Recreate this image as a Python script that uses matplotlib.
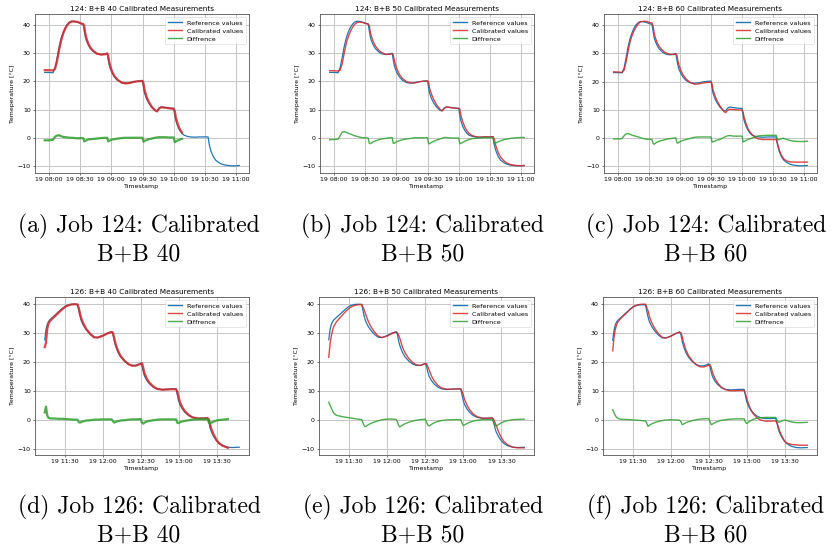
import matplotlib
matplotlib.use("Agg")
import numpy as np
import pandas as pd
import matplotlib.pyplot as plt
import matplotlib.dates as mdates

nan = np.nan
DAY = "2019-03-19 "

# ---- Job 124 -------------------------------------------------------------
t124 = ["07:56", "08:00", "08:04", "08:06", "08:08", "08:10", "08:12", "08:14", "08:16", "08:18",
        "08:20", "08:22", "08:25", "08:28", "08:31", "08:33", "08:34", "08:35", "08:36", "08:38",
        "08:40", "08:43", "08:46", "08:50", "08:54", "08:56", "08:57", "08:58", "08:59", "09:01",
        "09:03", "09:06", "09:10", "09:14", "09:18", "09:22", "09:26", "09:30", "09:31", "09:32",
        "09:34", "09:36", "09:39", "09:42", "09:44", "09:46", "09:48", "09:52", "09:56", "10:00",
        "10:01", "10:02", "10:04", "10:06", "10:08", "10:10", "10:13", "10:16", "10:20", "10:25",
        "10:30", "10:33", "10:34", "10:35", "10:36", "10:38", "10:40", "10:43", "10:46", "10:50",
        "10:55", "11:00", "11:03"]
ref124 = [23.2, 23.2, 23.1, 24.8, 28.5, 32.5, 35.5, 37.6, 39.2, 40.3,
          41.0, 41.3, 41.2, 40.9, 40.5, 40.3, 38.0, 35.8, 34.5, 32.8,
          31.6, 30.5, 29.8, 29.5, 29.7, 30.0, 27.8, 25.8, 24.5, 22.8,
          21.6, 20.4, 19.6, 19.4, 19.6, 19.9, 20.1, 20.2, 17.8, 15.8,
          13.8, 12.4, 10.8, 9.8, 9.6, 10.6, 11.0, 10.8, 10.6, 10.5,
          8.0, 6.2, 4.0, 2.6, 1.6, 1.0, 0.6, 0.4, 0.3, 0.4,
          0.4, 0.4, -2.0, -3.6, -4.8, -6.5, -7.7, -8.6, -9.2, -9.6,
          -9.8, -9.8, -9.7]
cal124_40 = [24.0, 24.0, 23.9, 24.5, 27.5, 31.5, 34.8, 37.2, 38.9, 40.1,
             40.9, 41.2, 41.2, 41.0, 40.5, 40.3, 39.5, 37.0, 35.4, 33.3,
             31.9, 30.7, 29.9, 29.5, 29.6, 29.9, 29.2, 27.0, 25.4, 23.3,
             21.9, 20.6, 19.6, 19.3, 19.5, 19.9, 20.1, 20.2, 19.2, 16.9,
             14.5, 12.8, 11.0, 9.8, 9.4, 10.5, 10.9, 10.7, 10.5, 10.3,
             9.6, 7.4, 4.8, 3.0, 1.9, nan, nan, nan, nan, nan,
             nan, nan, nan, nan, nan, nan, nan, nan, nan, nan,
             nan, nan, nan]
cal124_50 = [23.8, 23.8, 23.7, 24.0, 26.3, 30.2, 33.6, 36.0, 37.8, 39.2,
             40.2, 40.8, 41.0, 40.8, 40.5, 40.3, 39.8, 37.5, 36.0, 33.9,
             32.5, 31.1, 30.2, 29.6, 29.6, 29.8, 29.6, 27.6, 26.2, 24.0,
             22.5, 21.0, 19.9, 19.5, 19.5, 19.9, 20.1, 20.2, 19.8, 17.6,
             15.3, 13.6, 11.6, 10.2, 9.6, 10.4, 11.0, 10.8, 10.6, 10.5,
             10.3, 8.1, 5.6, 3.8, 2.5, 1.6, 0.9, 0.5, 0.3, 0.4,
             0.4, 0.5, -0.2, -1.8, -3.1, -5.1, -6.6, -7.9, -8.8, -9.4,
             -9.7, -9.8, -9.7]
cal124_60 = [23.5, 23.4, 23.3, 24.0, 27.0, 31.0, 34.3, 36.6, 38.3, 39.6,
             40.6, 41.2, 41.4, 41.3, 40.9, 40.8, 39.8, 37.4, 35.8, 33.8,
             32.4, 31.1, 30.3, 29.7, 29.6, 29.9, 29.4, 27.4, 25.9, 23.9,
             22.4, 20.9, 19.7, 19.1, 19.2, 19.5, 19.7, 19.8, 19.2, 17.0,
             14.8, 13.1, 11.2, 9.6, 9.0, 9.8, 10.2, 10.1, 10.0, 9.9,
             9.2, 7.4, 4.9, 3.1, 1.9, 1.1, 0.2, -0.3, -0.5, -0.5,
             -0.5, -0.5, -1.6, -2.9, -4.3, -6.1, -7.3, -8.1, -8.4, -8.5,
             -8.5, -8.5, -8.5]
diff124_40 = [-0.8, -0.8, -0.6, 0.5, 0.9, 1.0, 0.6, 0.4, 0.3, 0.2,
              0.1, 0.1, 0.0, -0.1, 0.0, 0.0, -1.2, -1.0, -0.8, -0.5,
              -0.4, -0.3, -0.2, 0.0, 0.1, 0.1, -1.2, -1.0, -0.8, -0.5,
              -0.4, -0.2, 0.0, 0.1, 0.1, 0.1, 0.1, 0.1, -1.3, -1.0,
              -0.7, -0.4, -0.2, 0.1, 0.2, 0.3, 0.3, 0.3, 0.2, 0.2,
              -1.5, -1.2, -0.8, -0.5, -0.3, nan, nan, nan, nan, nan,
              nan, nan, nan, nan, nan, nan, nan, nan, nan, nan,
              nan, nan, nan]
diff124_50 = [-0.6, -0.5, -0.4, 0.8, 2.1, 2.3, 2.0, 1.7, 1.4, 1.1,
              0.8, 0.6, 0.3, 0.1, 0.1, 0.0, -1.8, -2.0, -1.8, -1.3,
              -1.0, -0.6, -0.3, -0.1, 0.1, 0.2, -1.8, -1.9, -1.6, -1.2,
              -0.9, -0.6, -0.3, -0.1, 0.1, 0.1, 0.1, 0.1, -2.0, -2.0,
              -1.5, -1.1, -0.7, -0.3, -0.1, 0.2, 0.2, 0.0, 0.0, 0.0,
              -2.0, -1.9, -1.5, -1.1, -0.8, -0.5, -0.2, -0.1, 0.0, 0.1,
              0.1, 0.1, -1.8, -1.9, -1.7, -1.3, -1.0, -0.6, -0.4, -0.1,
              0.1, 0.2, 0.2]
diff124_60 = [-0.3, -0.3, -0.2, 0.8, 1.5, 1.6, 1.3, 1.0, 0.8, 0.6,
              0.4, 0.1, -0.2, -0.4, -0.4, -0.5, -1.8, -2.2, -1.9, -1.4,
              -1.1, -0.8, -0.5, -0.2, 0.0, 0.1, -1.6, -1.8, -1.5, -1.1,
              -0.8, -0.5, -0.1, 0.3, 0.4, 0.4, 0.4, 0.4, -1.4, -1.3,
              -1.0, -0.7, -0.4, 0.2, 0.5, 0.8, 0.9, 0.7, 0.7, 0.7,
              -1.4, -1.2, -0.8, -0.4, -0.2, 0.1, 0.5, 0.8, 0.9, 1.0,
              1.0, 1.0, -0.4, -0.6, -0.5, -0.2, 0.0, -0.5, -0.8, -1.1,
              -1.2, -1.2, -1.1]

# ---- Job 126 -------------------------------------------------------------
t126 = ["11:14", "11:15", "11:16", "11:17", "11:18", "11:20", "11:22", "11:25", "11:28", "11:31",
        "11:34", "11:37", "11:40", "11:41", "11:42", "11:43", "11:45", "11:47", "11:50", "11:53",
        "11:56", "12:00", "12:04", "12:07", "12:08", "12:09", "12:10", "12:12", "12:14", "12:17",
        "12:20", "12:23", "12:26", "12:30", "12:31", "12:32", "12:33", "12:35", "12:37", "12:40",
        "12:43", "12:47", "12:51", "12:55", "12:58", "12:59", "13:00", "13:01", "13:03", "13:05",
        "13:08", "13:11", "13:15", "13:19", "13:23", "13:24", "13:25", "13:26", "13:28", "13:30",
        "13:32", "13:35", "13:39", "13:43", "13:48"]
ref126 = [27.5, 31.0, 32.8, 33.8, 34.4, 35.2, 36.0, 37.2, 38.4, 39.3,
          39.7, 39.8, 39.7, 37.5, 35.5, 34.0, 32.2, 30.9, 29.4, 28.4,
          28.3, 29.0, 29.9, 30.3, 29.5, 27.2, 25.5, 23.2, 21.7, 20.2,
          19.2, 18.7, 18.7, 19.4, 18.5, 16.5, 15.0, 13.4, 12.3, 11.2,
          10.6, 10.4, 10.5, 10.6, 10.6, 8.5, 6.5, 5.2, 3.6, 2.5,
          1.4, 0.8, 0.5, 0.5, 0.6, -1.0, -3.0, -4.3, -6.0, -7.3,
          -8.2, -9.0, -9.5, -9.6, -9.5]
cal126_40 = [25.0, 26.5, 31.3, 33.2, 33.9, 34.8, 35.6, 36.9, 38.1, 39.1,
             39.6, 39.8, 39.7, 38.4, 36.5, 34.8, 32.7, 31.2, 29.6, 28.4,
             28.3, 28.9, 29.8, 30.2, 30.0, 28.2, 26.3, 23.7, 22.0, 20.4,
             19.2, 18.6, 18.6, 19.2, 19.5, 17.9, 16.0, 14.0, 12.7, 11.4,
             10.6, 10.3, 10.4, 10.5, 10.5, 9.6, 7.7, 6.1, 4.2, 2.9,
             1.6, 0.8, 0.4, 0.4, 0.5, 0.0, -1.7, -3.3, -5.4, -7.0,
             -8.1, -9.0, -9.7, nan, nan]
cal126_50 = [21.5, 26.0, 28.8, 30.8, 32.2, 33.7, 34.7, 36.2, 37.6, 38.7,
             39.3, 39.6, 39.7, 38.7, 37.7, 36.4, 34.0, 32.2, 30.2, 28.8,
             28.3, 28.8, 29.7, 30.2, 30.1, 29.2, 28.0, 25.1, 23.1, 21.1,
             19.7, 18.9, 18.7, 19.2, 19.3, 18.3, 17.2, 15.0, 13.4, 11.8,
             10.9, 10.5, 10.5, 10.6, 10.6, 9.7, 8.5, 7.0, 4.9, 3.4,
             1.9, 1.0, 0.5, 0.5, 0.6, 0.0, -1.0, -2.1, -4.4, -6.2,
             -7.5, -8.7, -9.5, -9.7, -9.7]
cal126_60 = [23.9, 28.4, 31.2, 32.8, 33.8, 34.9, 35.8, 37.0, 38.3, 39.3,
             39.8, 40.0, 40.0, 38.7, 37.7, 35.8, 33.5, 31.8, 29.9, 28.6,
             28.3, 28.9, 29.9, 30.4, 30.1, 28.8, 26.9, 24.1, 22.3, 20.4,
             19.1, 18.4, 18.3, 18.9, 19.1, 18.1, 16.4, 14.3, 12.8, 11.3,
             10.5, 10.1, 10.1, 10.2, 10.2, 9.1, 7.7, 6.1, 3.9, 2.3,
             0.8, 0.0, -0.4, -0.4, -0.3, -1.0, -2.2, -3.6, -5.7, -7.3,
             -8.0, -8.4, -8.6, -8.7, -8.7]
diff126_40 = [2.5, 4.5, 1.5, 0.6, 0.5, 0.4, 0.4, 0.3, 0.3, 0.2,
              0.1, 0.0, 0.0, -0.9, -1.0, -0.8, -0.5, -0.3, -0.2, 0.0,
              0.0, 0.1, 0.1, 0.1, -0.5, -1.0, -0.8, -0.5, -0.3, -0.2,
              0.0, 0.1, 0.1, 0.2, -1.0, -1.4, -1.0, -0.6, -0.4, -0.2,
              0.0, 0.1, 0.1, 0.1, 0.1, -1.1, -1.2, -0.9, -0.6, -0.4,
              -0.2, 0.0, 0.1, 0.1, 0.1, -1.0, -1.3, -1.0, -0.6, -0.3,
              -0.1, 0.0, 0.2, nan, nan]
diff126_50 = [6.0, 5.0, 4.0, 3.0, 2.2, 1.5, 1.3, 1.0, 0.8, 0.6,
              0.4, 0.2, 0.0, -1.2, -2.2, -2.4, -1.8, -1.3, -0.8, -0.4,
              0.0, 0.2, 0.2, 0.1, -0.6, -2.0, -2.5, -1.9, -1.4, -0.9,
              -0.5, -0.2, 0.0, 0.2, -0.8, -1.8, -2.2, -1.6, -1.1, -0.6,
              -0.3, -0.1, 0.0, 0.0, 0.0, -1.2, -2.0, -1.8, -1.3, -0.9,
              -0.5, -0.2, 0.0, 0.0, 0.0, -1.0, -2.0, -2.2, -1.6, -1.1,
              -0.7, -0.3, 0.0, 0.1, 0.2]
diff126_60 = [3.6, 2.6, 1.6, 1.0, 0.6, 0.3, 0.2, 0.2, 0.1, 0.0,
              -0.1, -0.2, -0.3, -1.2, -2.2, -1.8, -1.3, -0.9, -0.5, -0.2,
              0.0, 0.1, 0.0, -0.1, -0.6, -1.6, -1.4, -0.9, -0.6, -0.2,
              0.1, 0.3, 0.4, 0.5, -0.6, -1.6, -1.4, -0.9, -0.5, -0.1,
              0.1, 0.3, 0.4, 0.4, 0.4, -0.6, -1.2, -0.9, -0.3, 0.2,
              0.6, 0.8, 0.9, 0.9, 0.9, 0.0, -0.8, -0.7, -0.3, 0.0,
              -0.2, -0.6, -0.9, -0.9, -0.8]

titles = ["124: B+B 40 Calibrated Measurements", "124: B+B 50 Calibrated Measurements",
          "124: B+B 60 Calibrated Measurements", "126: B+B 40 Calibrated Measurements",
          "126: B+B 50 Calibrated Measurements", "126: B+B 60 Calibrated Measurements"]
captions = ["(a) Job 124: Calibrated\nB+B 40", "(b) Job 124: Calibrated\nB+B 50",
            "(c) Job 124: Calibrated\nB+B 60", "(d) Job 126: Calibrated\nB+B 40",
            "(e) Job 126: Calibrated\nB+B 50", "(f) Job 126: Calibrated\nB+B 60"]


def to_time(ts):
    return pd.to_datetime([DAY + t for t in ts])


x124 = to_time(t124)
x126 = to_time(t126)
panels = [
    (x124, ref124, cal124_40, diff124_40, True),
    (x124, ref124, cal124_50, diff124_50, False),
    (x124, ref124, cal124_60, diff124_60, False),
    (x126, ref126, cal126_40, diff126_40, True),
    (x126, ref126, cal126_50, diff126_50, False),
    (x126, ref126, cal126_60, diff126_60, False),
]

W, H = 833, 551
fig = plt.figure(figsize=(W / 100, H / 100), dpi=100)

# axes boxes in pixels: left, right, top, bottom
boxes = [(35, 249, 14, 173), (320, 534, 14, 173), (604, 817, 14, 173),
         (35, 249, 297, 455), (319, 534, 297, 455), (603, 817, 297, 455)]
cap_x = [139, 423, 706, 139, 423, 706]
cap_y = [240, 240, 240, 521, 521, 521]

for i, (x, ref, cal, diff, noisy) in enumerate(panels):
    l, r, t, b = boxes[i]
    ax = fig.add_axes([l / W, 1 - b / H, (r - l) / W, (b - t) / H])
    lw_n = 1.6 if noisy else 1.0
    ax.plot(x, ref, color="tab:blue", lw=0.9, label="Reference values")
    ax.plot(x, cal, color="tab:red", lw=lw_n, alpha=0.85, label="Calibrated values")
    ax.plot(x, diff, color="tab:green", lw=lw_n, alpha=0.85, label="Diffrence")
    ax.set_title(titles[i], fontsize=5.3, pad=2.5)
    ax.set_xlabel("Timestamp", fontsize=4.5, labelpad=1)
    ax.set_ylabel("Temeperature [°C]", fontsize=4.5, labelpad=2)
    ax.xaxis.set_major_locator(mdates.MinuteLocator(byminute=[0, 30]))
    ax.xaxis.set_major_formatter(mdates.DateFormatter("%d %H:%M"))
    ax.set_yticks([-10, 0, 10, 20, 30, 40])
    ax.tick_params(labelsize=4.5, length=1.5, width=0.4, pad=1.5)
    ax.grid(True, color="#c4c4c4", lw=0.7)
    for s in ax.spines.values():
        s.set_color("#555555")
        s.set_linewidth(0.6)
    leg = ax.legend(loc="upper right", fontsize=4.6, handlelength=2.2,
                    borderpad=0.45, labelspacing=0.4, framealpha=0.8)
    leg.get_frame().set_linewidth(0.4)
    for h in leg.get_lines():
        h.set_linewidth(1.0)
    fig.text(cap_x[i] / W, 1 - cap_y[i] / H, captions[i], ha="center", va="center",
             fontfamily="cmr10", fontsize=17, linespacing=1.25)

fig.savefig("out.png", dpi=100)
